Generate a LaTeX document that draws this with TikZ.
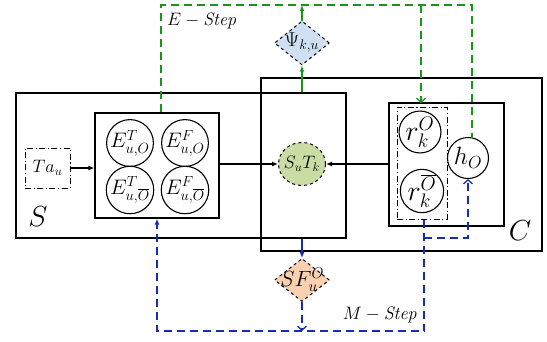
\documentclass[tikz,border=0pt]{standalone}
\usepackage{fix-cm}
\usetikzlibrary{shapes.geometric,arrows.meta}

\definecolor{egreen}{RGB}{24,150,24}
\definecolor{mblue}{RGB}{24,44,178}
\definecolor{psifill}{RGB}{207,224,243}
\definecolor{sffill}{RGB}{249,208,176}
\definecolor{stfill}{RGB}{202,220,164}

\newcommand{\fs}[1]{\fontsize{#1}{#1}\selectfont}

\tikzset{
  box/.style={draw, rectangle, line width=1.3pt, inner sep=0pt},
  ddbox/.style={draw, rectangle, line width=1pt, inner sep=0pt,
    dash pattern=on 6pt off 2.5pt on 1.2pt off 2.5pt},
  var/.style={draw, circle, line width=1.1pt, inner sep=0pt, minimum size=41pt},
  param/.style={draw, diamond, dashed, line width=1pt, inner sep=0pt,
    minimum width=55pt, minimum height=44pt},
  gline/.style={draw=egreen, line width=1.5pt},
  bline/.style={draw=mblue, line width=1.5pt},
  dsh/.style={dash pattern=on 8pt off 5pt},
  solidtip/.style={-{Latex[length=6pt,width=5pt]}},
  opentip/.style={-{Straight Barb[length=4pt,width=9pt,line width=1.3pt]}},
  ftag/.style={inner sep=0pt},
}

\begin{document}
\begin{tikzpicture}[x=1pt,y=-1pt]
\useasboundingbox (0,0) rectangle (547,341);

% outer plates
\node[box, minimum width=330pt, minimum height=145pt] (Sbox) at (181,165.5) {};
\node[box, minimum width=281pt, minimum height=173pt] (Cbox) at (401.5,164.5) {};
\node[ftag, font=\fs{29}] (Slab) at (38,217) {$S$};
\node[ftag, font=\fs{29}] (Clab) at (520,231) {$C$};

% source side
\node[ddbox, minimum width=45pt, minimum height=40pt, font=\fs{18}] (Ta) at (47.5,168)
  {$Ta_{u}$};
\node[box, minimum width=124pt, minimum height=105pt] (Ebox) at (157,165.5) {};
\node[var, font=\fs{21}] (eTO) at (130,143) {$E^{T}_{u,O}$};
\node[var, font=\fs{21}] (eFO) at (185,143) {$E^{F}_{u,O}$};
\node[var, font=\fs{21}] (eTB) at (130,190) {$E^{T}_{u,\overline{O}}$};
\node[var, font=\fs{21}] (eFB) at (185,190) {$E^{F}_{u,\overline{O}}$};

% shared variable
\node[draw, ellipse, dashed, line width=1pt, fill=stfill, minimum width=47pt,
  minimum height=43pt, inner sep=0pt] (st) at (302,164) {};
\node[ftag, font=\fs{18}] (stlab) at (st.center) {$S_{u}T_{k}$};

% claim side
\node[box, minimum width=115pt, minimum height=123pt] (rbox) at (446.5,164.5) {};
\node[ddbox, minimum width=50pt, minimum height=112pt] (dd) at (422,163) {};
\node[var, minimum size=40pt, font=\fs{28}] (rO) at (420,132) {$r^{O}_{k}$};
\node[var, minimum size=40pt, font=\fs{28}] (rB) at (422,191) {$r^{\overline{O}}_{k}$};
\node[var, font=\fs{25}] (hO) at (468,158) {$h_{O}$};

% parameter diamonds
\node[param, fill=psifill] (psi) at (302,43) {};
\node[ftag, font=\fs{20}] (psilab) at (psi.center) {$\Psi_{k,u}$};
\node[param, fill=sffill, minimum height=43pt] (sf) at (302,280) {};
\node[ftag, font=\fs{22}] (sflab) at (sf.center) {$SF^{O}_{u}$};

% data flow
\draw[line width=1.2pt, solidtip] (Ta.east) -- (Ta.east -| Ebox.west);
\draw[line width=1.2pt, solidtip] (Ebox.east |- st) -- (st.west);
\draw[line width=1.2pt, solidtip] (rbox.west |- st) -- (st.east);

% E-step
\coordinate (tl) at (161,5);
\coordinate (tr) at (472,5);
\draw[gline, solidtip] (psi.south |- Sbox.north) -- (psi.south);
\draw[gline, solidtip] (psi.north) -- (psi.north |- tl);
\draw[gline, dsh] (tl |- Ebox.north) -- (tl) -- (tr) -- (hO.north -| tr);
\draw[gline, dsh, opentip] (421,5) -- (421,103);
\node[ftag, font=\fs{18}, anchor=west] (estep) at (167,21) {$E-\mathit{Step}$};

% M-step
\coordinate (bl) at (157,331);
\coordinate (br) at (424,331);
\coordinate (hk) at (424,238);
\draw[bline, solidtip] (sf.north |- Sbox.south) -- (sf.north);
\draw[bline, dsh, opentip] (sf.south) -- (sf.south |- bl);
\draw[bline, dsh, solidtip] (br |- dd.south) -- (br) -- (bl) -- (Ebox.south);
\draw[bline, dsh, opentip] (hk) -- (hk -| hO.south) -- (hO.south);
\node[ftag, font=\fs{18}, anchor=east] (mstep) at (418,315) {$M-\mathit{Step}$};
\end{tikzpicture}
\end{document}
